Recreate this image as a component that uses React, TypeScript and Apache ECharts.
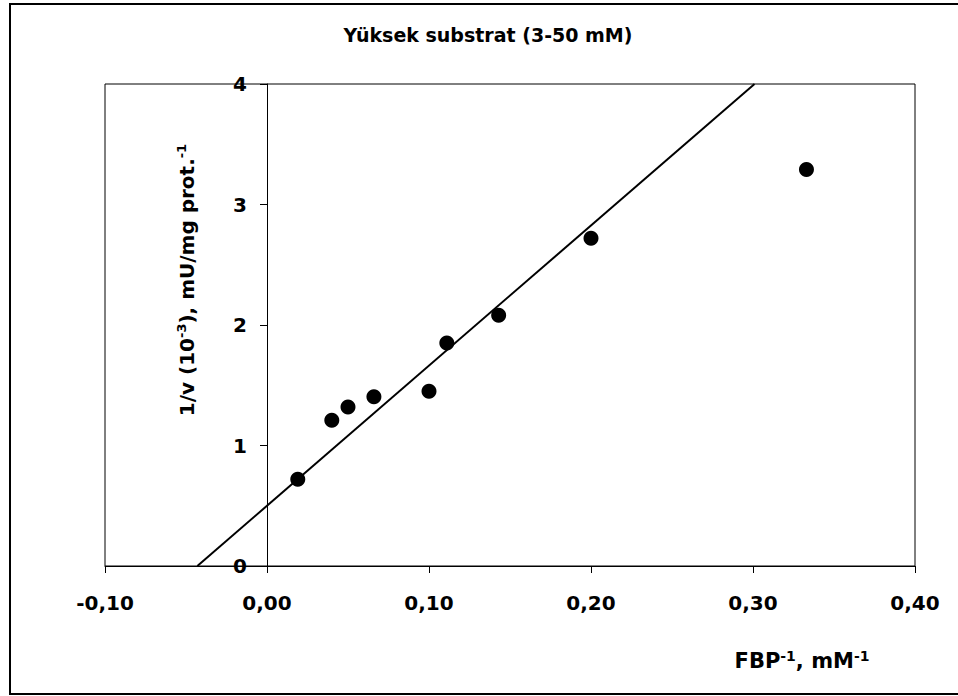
import React, { useEffect, useRef } from "react";
import * as echarts from "echarts";

// Lineweaver–Burk plot, high substrate range
const fbpInverse = [0.019, 0.04, 0.05, 0.066, 0.1, 0.111, 0.143, 0.2, 0.333];
const inverseVelocity = [0.72, 1.21, 1.32, 1.405, 1.45, 1.85, 2.08, 2.72, 3.29];

// Fitted regression line: y = slope * x + intercept
const fitSlope = 11.63;
const fitIntercept = 0.5;

const yMin = 0;
const yMax = 4;
const xMin = -0.1;
const xMax = 0.4;

const titleText = "Yüksek substrat (3-50 mM)";
const FONT = "DejaVu Sans";

const GRID_LEFT = 105;
const GRID_WIDTH = 810;

export default function App() {
  const ref = useRef<HTMLDivElement>(null);

  useEffect(() => {
    if (!ref.current) return;
    const chart = echarts.init(ref.current, undefined, { renderer: "svg" });

    const points = fbpInverse.map((x, i) => [x, inverseVelocity[i]]);
    const fitLine = [
      [(yMin - fitIntercept) / fitSlope, yMin],
      [(yMax - fitIntercept) / fitSlope, yMax],
    ];

    // the vertical axis sits on x = 0, inside the plot frame
    const yAxisShift = ((0 - xMin) / (xMax - xMin)) * GRID_WIDTH;

    const supStyle = {
      fontSize: 14,
      fontWeight: "bold",
      fontFamily: FONT,
      fill: "#000",
      verticalAlign: "top",
      lineHeight: 14,
    };

    chart.setOption({
      animation: false,
      backgroundColor: "#fff",
      grid: {
        left: GRID_LEFT,
        top: 84,
        width: GRID_WIDTH,
        height: 482,
        show: true,
        borderColor: "#000",
        borderWidth: 1,
      },
      xAxis: {
        type: "value",
        min: xMin,
        max: xMax,
        interval: 0.1,
        axisLine: { onZero: false, lineStyle: { color: "#000", width: 1 } },
        axisTick: { show: true, length: 7, lineStyle: { color: "#000" } },
        splitLine: { show: false },
        axisLabel: {
          margin: 27,
          color: "#000",
          fontSize: 20,
          fontWeight: "bold",
          fontFamily: FONT,
          formatter: (v: number) => v.toFixed(2).replace(".", ","),
        },
      },
      yAxis: {
        type: "value",
        min: yMin,
        max: yMax,
        interval: 1,
        offset: -yAxisShift,
        axisLine: { show: true, onZero: false, lineStyle: { color: "#000", width: 1 } },
        axisTick: { show: true, length: 7, lineStyle: { color: "#000" } },
        splitLine: { show: false },
        axisLabel: {
          margin: 20,
          color: "#000",
          fontSize: 20,
          fontWeight: "bold",
          fontFamily: FONT,
        },
      },
      series: [
        {
          type: "line",
          data: fitLine,
          showSymbol: false,
          symbol: "none",
          lineStyle: { color: "#000", width: 2 },
          silent: true,
          z: 2,
        },
        {
          type: "scatter",
          data: points,
          symbol: "circle",
          symbolSize: 15,
          itemStyle: { color: "#000", opacity: 1 },
          z: 3,
        },
      ],
      graphic: [
        {
          type: "rect",
          shape: { x: 10, y: 4, width: 1000, height: 690 },
          style: { fill: "none", stroke: "#000", lineWidth: 2 },
          silent: true,
        },
        {
          type: "text",
          x: 488,
          y: 35,
          style: {
            text: titleText,
            fontSize: 19,
            fontWeight: "bold",
            fontFamily: FONT,
            fill: "#000",
            align: "center",
            verticalAlign: "middle",
          },
        },
        {
          type: "text",
          x: 187,
          y: 280,
          rotation: Math.PI / 2,
          style: {
            text: "1/v (10{sup|-3}), mU/mg prot.{sup|-1}",
            fontSize: 20,
            fontWeight: "bold",
            fontFamily: FONT,
            fill: "#000",
            align: "center",
            verticalAlign: "middle",
            lineHeight: 24,
            rich: { sup: { ...supStyle, fontSize: 13 } },
          },
        },
        {
          type: "text",
          x: 802,
          y: 661,
          style: {
            text: "FBP{sup|-1}, mM{sup|-1}",
            fontSize: 21,
            fontWeight: "bold",
            fontFamily: FONT,
            fill: "#000",
            align: "center",
            verticalAlign: "middle",
            lineHeight: 25,
            rich: { sup: supStyle },
          },
        },
      ],
    });

    return () => chart.dispose();
  }, []);

  return (
    <div
      ref={ref}
      style={{ position: "fixed", left: 0, top: 0, width: 958, height: 696 }}
    />
  );
}
